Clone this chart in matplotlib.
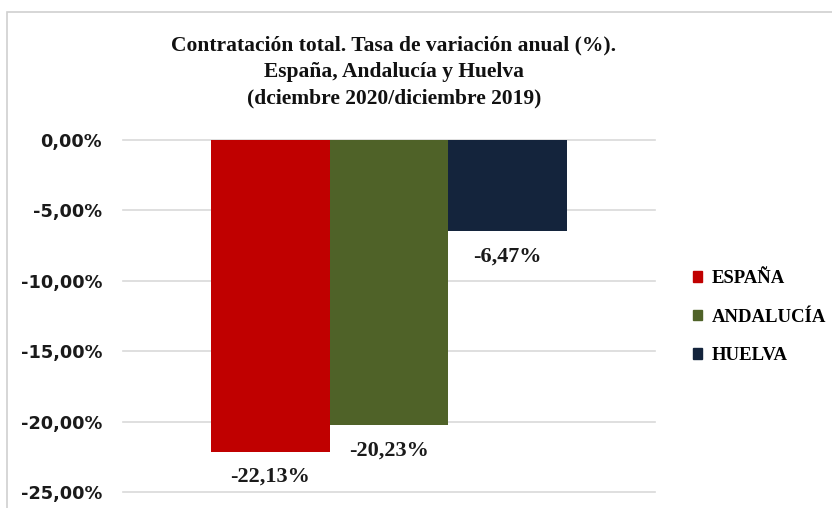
import matplotlib
matplotlib.use("Agg")
import matplotlib.pyplot as plt
import matplotlib.patches as mpatches

# data
regions = ["ESPAÑA", "ANDALUCÍA", "HUELVA"]
values = [-22.13, -20.23, -6.47]
value_labels = ["-22,13%", "-20,23%", "-6,47%"]
colors = ["#C00000", "#4F6228", "#14243C"]
yticks = [0, -5, -10, -15, -20, -25]
ytick_labels = ["0,00%", "-5,00%", "-10,00%", "-15,00%", "-20,00%", "-25,00%"]
title = ("Contratación total. Tasa de variación anual (%).\n"
         "España, Andalucía y Huelva\n"
         "(dciembre 2020/diciembre 2019)")

SERIF = "Liberation Serif"
W, H = 832, 508

fig = plt.figure(figsize=(W / 100, H / 100), dpi=100)
ax = fig.add_axes([123 / W, 1 - 492 / H, (655 - 123) / W, (492 - 140) / H])

# chart border (top and left visible)
fig.patches.append(mpatches.Rectangle((7 / W, -0.2), 1.2, 1 - 11.5 / H + 0.2,
                                      transform=fig.transFigure, fill=False,
                                      edgecolor="#d0d0d0", lw=1.2))

x = [-1, 0, 1]
bars = ax.bar(x, values, width=1.0, color=colors, zorder=2)
ax.set_xlim(-2.24, 2.24)
ax.set_ylim(-25, 0)

ax.set_yticks(yticks)
ax.set_yticklabels(ytick_labels, fontsize=12.8, fontweight="bold",
                   family="DejaVu Sans", color="#1a1a1a")
ax.set_xticks([])
ax.tick_params(axis="y", length=0, pad=15)
ax.grid(axis="y", color="#d9d9d9", lw=1.2, zorder=0)
for s in ax.spines.values():
    s.set_visible(False)
for gl in ax.get_ygridlines():
    gl.set_clip_on(False)

for xi, v, lab in zip(x, values, value_labels):
    ax.annotate(lab, (xi, v), xytext=(0, -11), textcoords="offset points",
                ha="center", va="top", fontsize=16, fontweight="bold",
                family=SERIF, color="#1a1a1a")

fig.text(394 / W, 1 - 72 / H, title, ha="center", va="center", fontsize=15.5,
         fontweight="bold", family=SERIF, color="#111111", linespacing=1.42)

handles = [mpatches.Patch(color=c, label=r) for c, r in zip(colors, regions)]
leg = fig.legend(handles=handles, loc="center left",
                 bbox_to_anchor=(676 / W, 1 - 317 / H), frameon=False,
                 prop={"family": SERIF, "weight": "bold", "size": 13.5},
                 handlelength=0.5, handleheight=0.5, handletextpad=0.5,
                 labelspacing=1.15)

fig.savefig("out.png", dpi=100, facecolor="white")
